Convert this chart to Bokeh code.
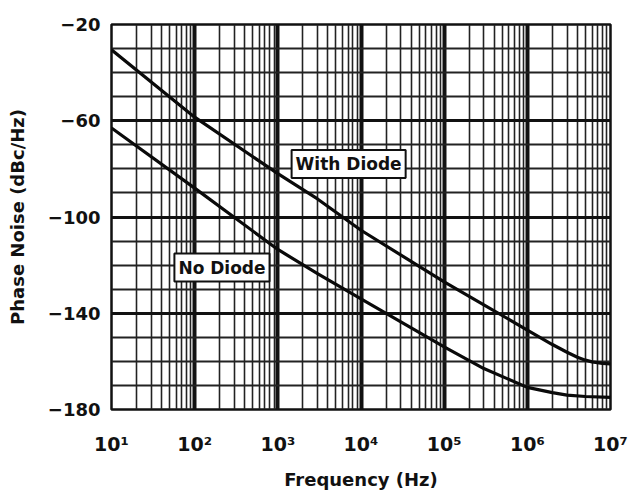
from bokeh.plotting import figure
from bokeh.models import FixedTicker, Label
from bokeh.embed import file_html
from bokeh.resources import INLINE

# ---- data ----
freq_with = [10, 100, 1e3, 3e3, 1e4, 1e5, 3e5, 1e6, 2e6, 3e6, 4e6, 5e6, 6e6, 8e6, 1e7]
noise_with = [-30.5, -58.5, -82, -92.5, -105.5, -127, -136.5, -147, -153, -156.2, -158.3, -159.5, -160.2, -160.8, -161]

freq_no = [10, 100, 1e3, 3e3, 1e4, 1e5, 3e5, 1e6, 2e6, 3e6, 5e6, 1e7]
noise_no = [-63, -88, -113.5, -123.5, -134, -154, -163, -170.8, -173, -174, -174.6, -175]

x_ticks = [10, 100, 1e3, 1e4, 1e5, 1e6, 1e7]
x_tick_labels = ["10\u00b9", "10\u00b2", "10\u00b3", "10\u2074", "10\u2075", "10\u2076", "10\u2077"]
y_ticks = [-180, -140, -100, -60, -20]
y_tick_labels = ["\u2212180", "\u2212140", "\u2212100", "\u221260", "\u221220"]

FONT = "DejaVu Sans"

p = figure(frame_width=499, frame_height=385, x_axis_type="log",
           x_range=(10, 1e7), y_range=(-180, -20),
           output_backend="svg", toolbar_location=None,
           min_border_left=111, min_border_right=19,
           min_border_top=24, min_border_bottom=80)

p.background_fill_color = "white"
p.border_fill_color = "white"
p.outline_line_color = "#111111"
p.outline_line_width = 2.5

minor_x = [k * 10 ** n for n in range(1, 7) for k in range(2, 10)]
p.xaxis.ticker = FixedTicker(ticks=x_ticks, minor_ticks=minor_x)
p.yaxis.ticker = FixedTicker(ticks=y_ticks, minor_ticks=list(range(-180, -19, 10)))
p.xaxis.major_label_overrides = {t: l for t, l in zip(x_ticks, x_tick_labels)}
p.yaxis.major_label_overrides = {t: l for t, l in zip(y_ticks, y_tick_labels)}

for ax in (p.xaxis[0], p.yaxis[0]):
    ax.axis_line_color = None
    ax.major_tick_line_color = None
    ax.minor_tick_line_color = None
    ax.major_tick_out = 0
    ax.major_tick_in = 0
    ax.minor_tick_out = 0
    ax.minor_tick_in = 0
    ax.major_label_text_font = FONT
    ax.major_label_text_font_style = "bold"
    ax.major_label_text_font_size = "18px"
    ax.major_label_text_color = "#111111"
    ax.axis_label_text_font = FONT
    ax.axis_label_text_font_style = "bold"
    ax.axis_label_text_font_size = "18px"
    ax.axis_label_text_color = "#111111"

p.xaxis.major_label_text_font_size = "19px"
p.xaxis.axis_label = "Frequency (Hz)"
p.yaxis.axis_label = "Phase Noise (dBc/Hz)"
p.xaxis.major_label_standoff = 23
p.xaxis.axis_label_standoff = 11
p.yaxis.major_label_standoff = 11
p.yaxis.axis_label_standoff = 17

p.xgrid.grid_line_color = "#111111"
p.xgrid.grid_line_width = 4
p.xgrid.minor_grid_line_color = "#222222"
p.xgrid.minor_grid_line_width = 1.6
p.ygrid.grid_line_color = "#111111"
p.ygrid.grid_line_width = 3
p.ygrid.minor_grid_line_color = "#222222"
p.ygrid.minor_grid_line_width = 1.8

p.line(freq_with, noise_with, line_color="#0a0a0a", line_width=3.2, line_join="round")
p.line(freq_no, noise_no, line_color="#0a0a0a", line_width=3.2, line_join="round")

for x, y, t in [(7100, -78, "With Diode"), (213, -121, "No Diode")]:
    p.add_layout(Label(x=x, y=y, text=t, text_align="center", text_baseline="middle",
                       text_font=FONT, text_font_style="bold", text_font_size="17px",
                       text_color="#111111",
                       background_fill_color="white",
                       border_line_color="#111111", border_line_width=2,
                       padding=4))

open("out.html", "w").write(file_html(p, INLINE))
